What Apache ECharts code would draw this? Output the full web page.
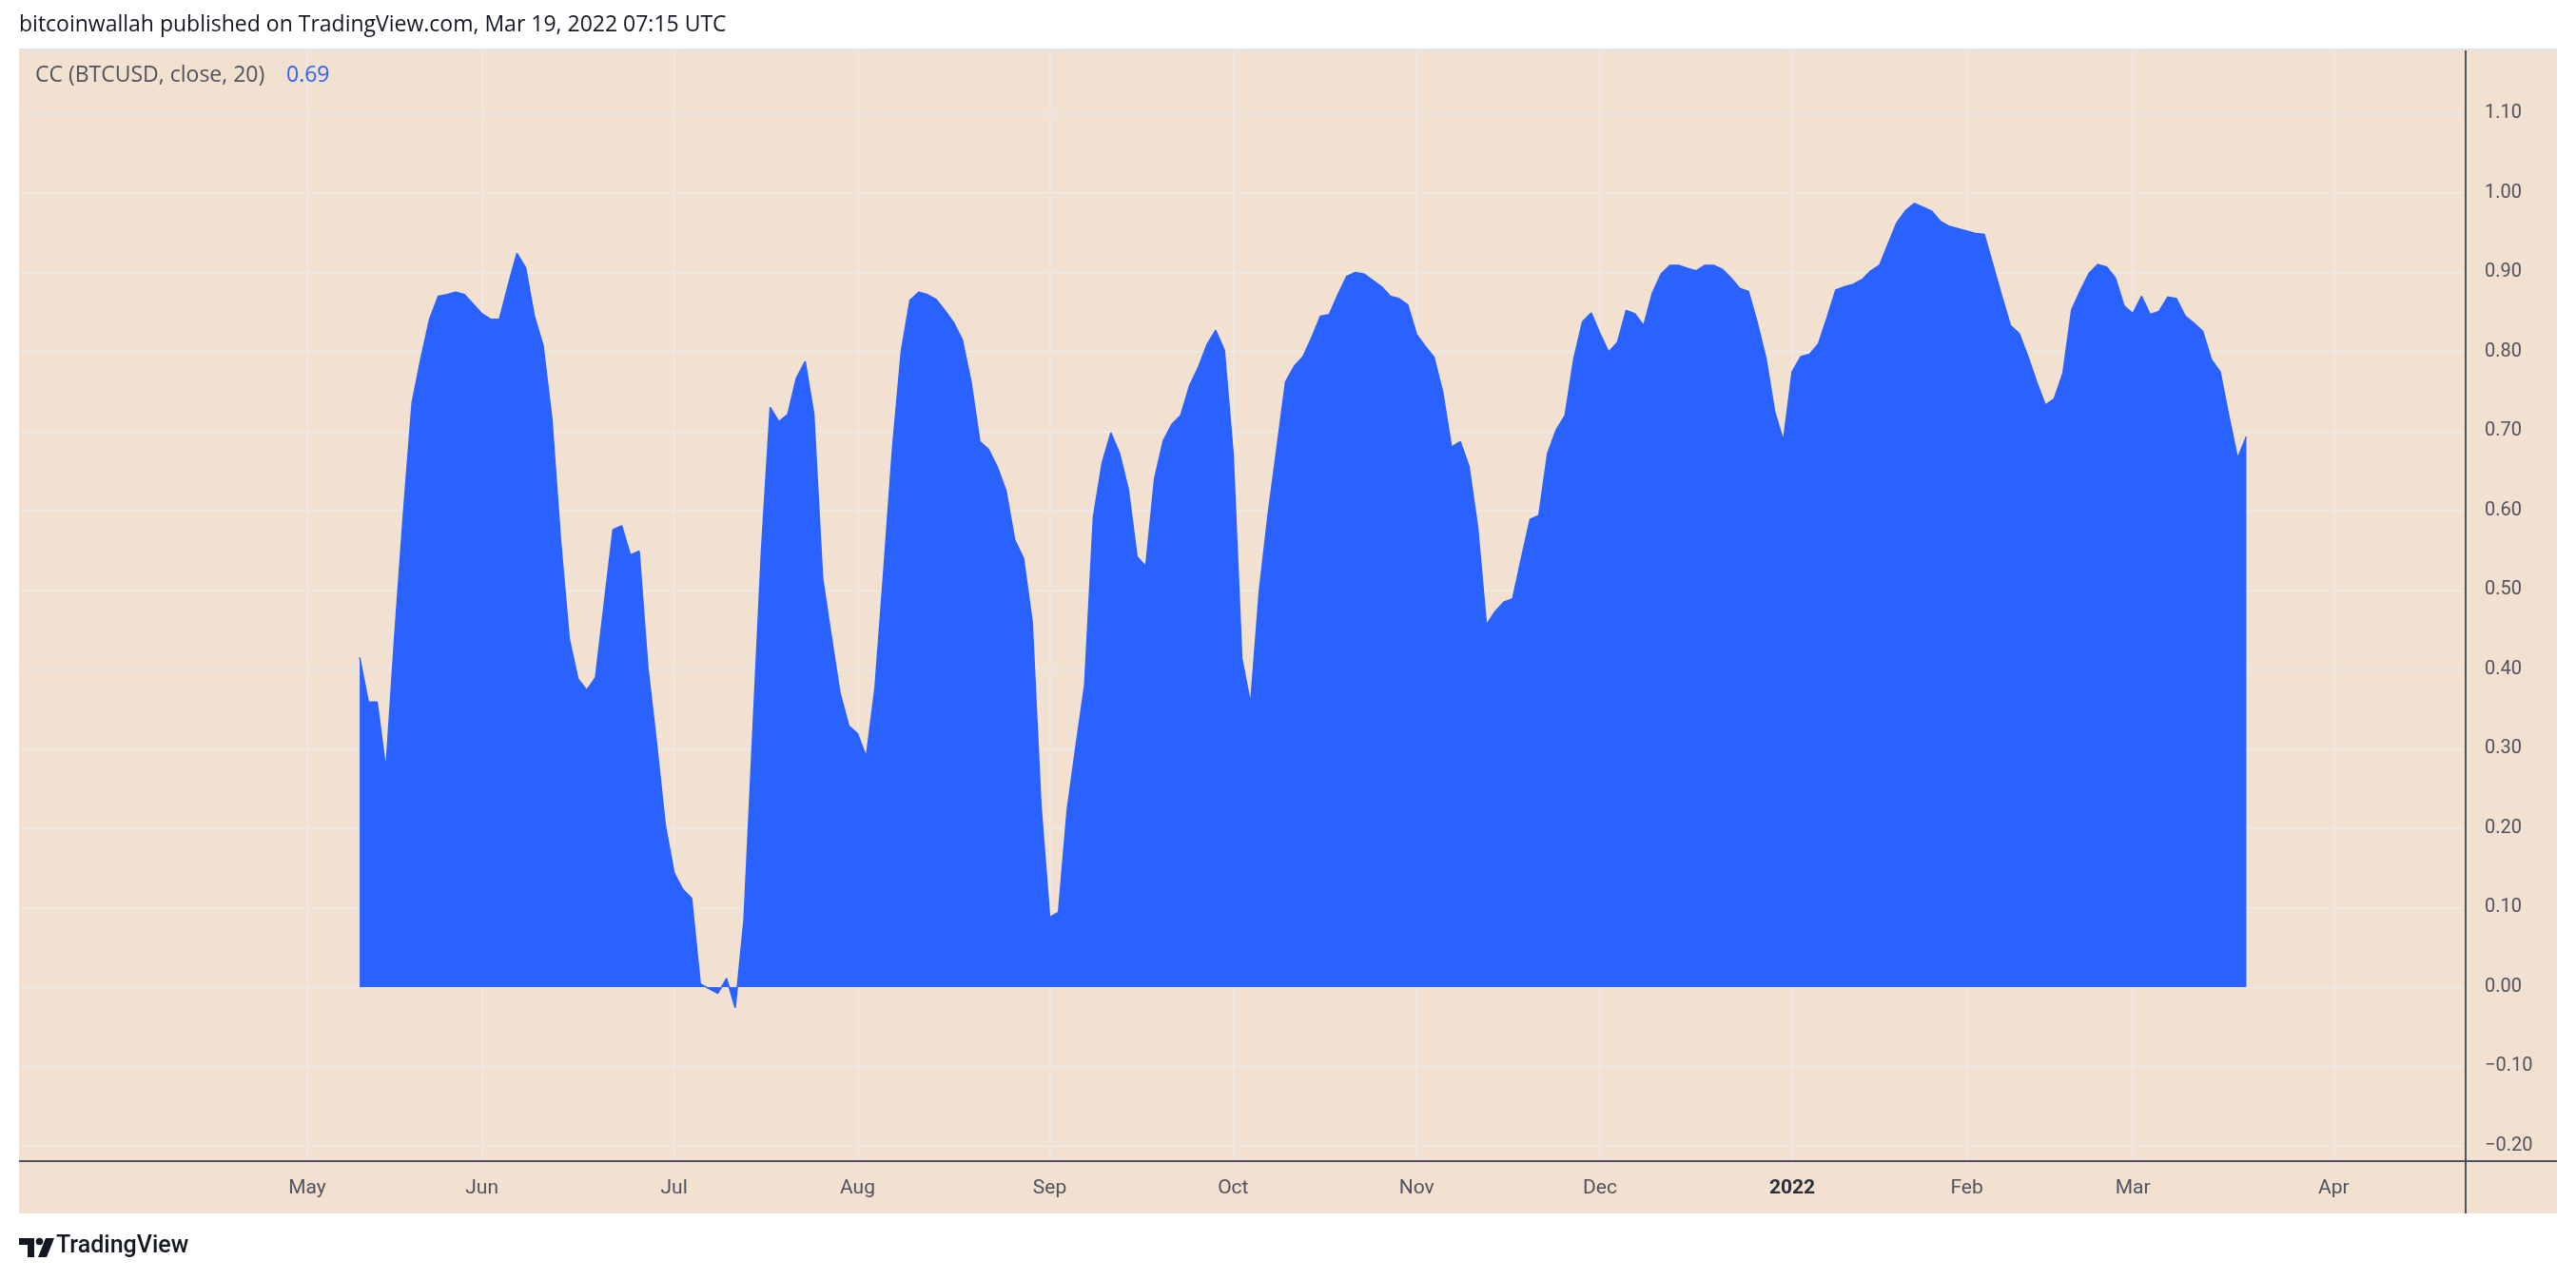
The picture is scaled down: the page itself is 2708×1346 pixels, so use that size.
<!DOCTYPE html>
<html>
<head>
<meta charset="utf-8">
<script src="https://cdn.jsdelivr.net/npm/echarts@6/dist/echarts.min.js"></script>
<style>
html,body{margin:0;padding:0;background:#ffffff;}
#chart{width:2708px;height:1346px;}
</style>
</head>
<body>
<div id="chart"></div>
<script>
// ---------- data (CC (BTCUSD, close, 20), one value per trading day) ----------
const firstDataDate = '2021-05-11';
const cc2021May = [0.415, 0.359, 0.359, 0.274, 0.441, 0.595, 0.736, 0.791, 0.841, 0.870, 0.872, 0.875, 0.872, 0.860];
const cc2021Jun = [0.848, 0.841, 0.841, 0.884, 0.924, 0.906, 0.845, 0.808, 0.716, 0.563, 0.438, 0.388, 0.374, 0.390, 0.483, 0.576, 0.581, 0.544, 0.549, 0.402, 0.306, 0.203];
const cc2021Jul = [0.144, 0.123, 0.112, 0.004, -0.002, -0.008, 0.011, -0.026, 0.085, 0.319, 0.550, 0.730, 0.712, 0.721, 0.767, 0.788, 0.721, 0.515, 0.441, 0.370, 0.329];
const cc2021Aug = [0.319, 0.290, 0.377, 0.524, 0.678, 0.800, 0.865, 0.875, 0.872, 0.866, 0.852, 0.837, 0.815, 0.762, 0.687, 0.677, 0.655, 0.625, 0.563, 0.540, 0.460, 0.229];
const cc2021Sep = [0.088, 0.094, 0.223, 0.303, 0.380, 0.592, 0.660, 0.698, 0.672, 0.627, 0.542, 0.530, 0.640, 0.688, 0.709, 0.720, 0.757, 0.780, 0.809, 0.827, 0.802];
const cc2021Oct = [0.672, 0.414, 0.357, 0.499, 0.595, 0.678, 0.762, 0.782, 0.794, 0.818, 0.845, 0.847, 0.872, 0.895, 0.900, 0.898, 0.890, 0.882, 0.870, 0.867, 0.859];
const cc2021Nov = [0.822, 0.807, 0.793, 0.749, 0.680, 0.687, 0.656, 0.579, 0.456, 0.473, 0.485, 0.489, 0.540, 0.589, 0.594, 0.672, 0.702, 0.720, 0.791, 0.838, 0.849];
const cc2021Dec = [0.823, 0.800, 0.812, 0.852, 0.848, 0.833, 0.874, 0.898, 0.909, 0.909, 0.905, 0.902, 0.909, 0.909, 0.904, 0.893, 0.880, 0.876, 0.837, 0.792, 0.725, 0.688];
const cc2022Jan = [0.775, 0.794, 0.797, 0.810, 0.843, 0.878, 0.882, 0.885, 0.891, 0.902, 0.909, 0.936, 0.963, 0.978, 0.987, 0.982, 0.977, 0.964, 0.958, 0.955];
const cc2022Feb = [0.952, 0.949, 0.948, 0.909, 0.870, 0.833, 0.823, 0.794, 0.762, 0.733, 0.741, 0.773, 0.853, 0.877, 0.899, 0.910, 0.907, 0.893, 0.858];
const cc2022Mar = [0.848, 0.870, 0.847, 0.851, 0.869, 0.867, 0.845, 0.836, 0.826, 0.790, 0.775, 0.719, 0.666, 0.693];

// ---------- axis ticks / labels ----------
const yTicks = [-0.2, -0.1, 0, 0.1, 0.2, 0.3, 0.4, 0.5, 0.6, 0.7, 0.8, 0.9, 1.0, 1.1];
const monthLabels = ['2022', 'Feb', 'Mar', 'Apr', 'May', 'Jun', 'Jul', 'Aug', 'Sep', 'Oct', 'Nov', 'Dec'];
const firstLabelDate = '2021-05-01';
const marketHolidays = ['2021-04-02', '2021-05-31', '2021-07-05', '2021-09-06', '2021-11-25', '2021-12-24', '2022-01-17', '2022-02-21', '2022-04-15'];
const barsBefore = 39;   // empty bars shown left of the first value
const barsAfter = 25;    // empty bars shown right of the last value
const lastValueText = '0.69';

// ---------- build trading-day categories ----------
function isoDay(d) { return d.toISOString().slice(0, 10); }
const allDays = [];
for (let d = new Date(Date.UTC(2021, 1, 1)); d <= new Date(Date.UTC(2022, 5, 30)); d.setUTCDate(d.getUTCDate() + 1)) {
  const wd = d.getUTCDay();
  const s = isoDay(d);
  if (wd === 0 || wd === 6 || marketHolidays.includes(s)) continue;
  allDays.push(s);
}
const ccValues = [].concat(cc2021May, cc2021Jun, cc2021Jul, cc2021Aug, cc2021Sep, cc2021Oct, cc2021Nov, cc2021Dec, cc2022Jan, cc2022Feb, cc2022Mar);
const firstIdx = allDays.indexOf(firstDataDate);
const categories = allDays.slice(firstIdx - barsBefore, firstIdx + ccValues.length + barsAfter);
const seriesData = categories.map((c, i) => {
  const k = i - barsBefore;
  return (k >= 0 && k < ccValues.length) ? ccValues[k] : null;
});
// first trading day of each month gets a label
const labelAt = categories.map((c, i) => c >= firstLabelDate && (i === 0 || categories[i - 1].slice(0, 7) !== c.slice(0, 7)));

const FONT = 'Roboto, "Liberation Sans", sans-serif';
const HEAD_FONT = '"Open Sans", Roboto, sans-serif';
const AXIS_TXT = '#50535E';
const GRID_CLR = '#ECE8E6';
const BLUE = '#2962FF';
const PEACH = '#F2E0D0';

const chart = echarts.init(document.getElementById('chart'), null, { renderer: 'canvas' });
chart.setOption({
  backgroundColor: '#ffffff',
  animation: false,
  grid: { left: 20, right: 117, top: 53, bottom: 125, containLabel: false, show: true, backgroundColor: PEACH, borderWidth: 0 },
  xAxis: {
    type: 'category',
    data: categories,
    boundaryGap: false,
    axisLine: { show: false },
    axisTick: { show: false },
    axisLabel: {
      interval: (i) => labelAt[i],
      margin: 18,
      fontSize: 21,
      fontFamily: FONT,
      color: AXIS_TXT,
      formatter: (v) => {
        const m = parseInt(v.slice(5, 7), 10) - 1;
        return m === 0 ? '{yr|' + monthLabels[0] + '}' : monthLabels[m];
      },
      rich: { yr: { fontSize: 21, fontFamily: FONT, fontWeight: 'bold', color: '#2A2E39' } }
    },
    splitLine: { show: true, interval: (i) => labelAt[i], lineStyle: { color: GRID_CLR, width: 2 } }
  },
  yAxis: {
    type: 'value',
    position: 'right',
    min: -0.2192,
    max: 1.1796,
    axisLine: { show: false },
    axisTick: { show: false, customValues: yTicks },
    axisLabel: {
      customValues: yTicks,
      margin: 21,
      fontSize: 20,
      fontFamily: FONT,
      color: AXIS_TXT,
      formatter: (v) => (v < -1e-9 ? '\u2212' : '') + Math.abs(v).toFixed(2)
    },
    splitLine: { show: true, lineStyle: { color: GRID_CLR, width: 2 } }
  },
  series: [{
    type: 'line',
    data: seriesData,
    showSymbol: false,
    symbol: 'none',
    connectNulls: false,
    lineStyle: { color: BLUE, width: 1.5 },
    itemStyle: { color: BLUE },
    areaStyle: { color: BLUE, opacity: 1, origin: 0 },
    z: 3
  }],
  graphic: [
    // price-scale strip and time-scale strip
    { type: 'rect', silent: true, z: -1, shape: { x: 2591, y: 53, width: 97, height: 1223 }, style: { fill: PEACH } },
    { type: 'rect', silent: true, z: -1, shape: { x: 20, y: 1221, width: 2571, height: 55 }, style: { fill: PEACH } },
    { type: 'line', silent: true, z: -1, shape: { x1: 20, y1: 52, x2: 2688, y2: 52 }, style: { stroke: '#E0E3EB', lineWidth: 2 } },
    { type: 'line', silent: true, z: 50, shape: { x1: 20, y1: 1221, x2: 2688, y2: 1221 }, style: { stroke: '#50535E', lineWidth: 2 } },
    { type: 'line', silent: true, z: 50, shape: { x1: 2592, y1: 53, x2: 2592, y2: 1276 }, style: { stroke: '#50535E', lineWidth: 2 } },
    { type: 'text', z: 50, left: 20, top: 15, style: { text: 'bitcoinwallah published on TradingView.com, Mar 19, 2022 07:15 UTC', font: '23px ' + HEAD_FONT, fill: '#131722' } },
    { type: 'text', z: 50, left: 37, top: 68, style: { text: 'CC (BTCUSD, close, 20)', font: '23px ' + HEAD_FONT, fill: '#50535E' } },
    { type: 'text', z: 50, left: 301, top: 68, style: { text: lastValueText, font: '23px ' + HEAD_FONT, fill: BLUE } },
    { type: 'rect', z: 50, shape: { x: 20, y: 1302, width: 16, height: 7 }, style: { fill: '#131722' } },
    { type: 'rect', z: 50, shape: { x: 29, y: 1302, width: 7, height: 20 }, style: { fill: '#131722' } },
    { type: 'circle', z: 50, shape: { cx: 41.5, cy: 1305.5, r: 3.8 }, style: { fill: '#131722' } },
    { type: 'polygon', z: 50, shape: { points: [[48, 1302], [57, 1302], [49, 1322], [40, 1322]] }, style: { fill: '#131722' } },
    { type: 'text', z: 50, left: 59, top: 1298, style: { text: 'TradingView', font: '500 25px ' + FONT, fill: '#131722' } }
  ]
});
</script>
</body>
</html>
